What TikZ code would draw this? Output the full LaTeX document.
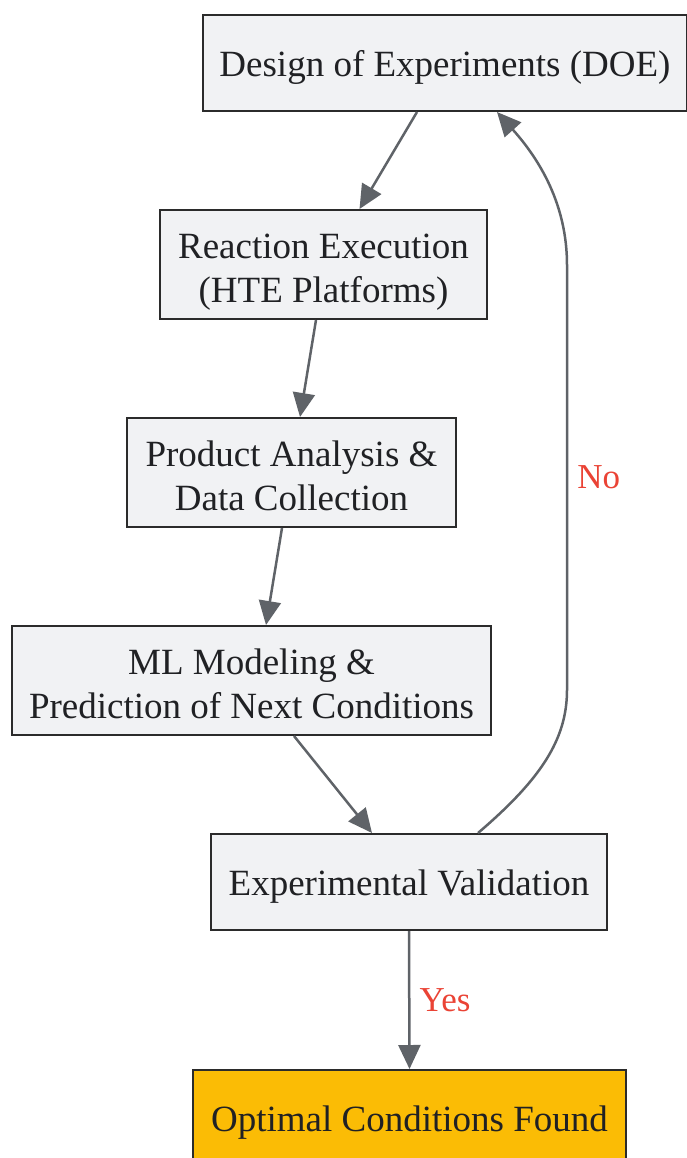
\documentclass[tikz,border=0pt]{standalone}
\usepackage{fontspec}
\setmainfont{Liberation Serif}
\usetikzlibrary{arrows.meta}

\definecolor{boxfill}{HTML}{F1F2F4}
\definecolor{boxline}{HTML}{2B2B2B}
\definecolor{arrowgray}{HTML}{5F6368}
\definecolor{labelred}{HTML}{EA4335}
\definecolor{foundfill}{HTML}{FBBC05}
\definecolor{textdark}{HTML}{202124}

\begin{document}
\begin{tikzpicture}[x={(1pt,0pt)}, y={(0pt,-1pt)},
    stage/.style={draw=boxline, line width=2pt, fill=boxfill, text=textdark, align=center, inner sep=0pt, text height=35.5pt, text depth=8pt, font=\fontsize{37}{44}\selectfont},
    twoline/.style={text height=83pt},
    flow/.style={draw=arrowgray, line width=2.5pt, -{Triangle[length=24pt,width=22pt]}},
    answer/.style={text=labelred, font=\fontsize{35}{42}\selectfont, inner sep=9pt}]

    % page
    \useasboundingbox (0,0) rectangle (687,1158);

    % boxes
    \node [stage, minimum width=484pt, minimum height=96pt] (doe) at (445,63) {Design of Experiments (DOE)};
    \node [stage, twoline, minimum width=327pt, minimum height=109pt] (react) at (323.5,264.5) {Reaction Execution\\(HTE Platforms)};
    \node [stage, twoline, minimum width=329pt, minimum height=109pt] (prod) at (291.5,472.5) {Product Analysis \&\\Data Collection};
    \node [stage, twoline, minimum width=479pt, minimum height=109pt] (ml) at (251.5,680.5) {ML Modeling \&\\Prediction of Next Conditions};
    \node [stage, minimum width=396pt, minimum height=96pt] (val) at (409,882) {Experimental Validation};
    \node [stage, fill=foundfill, minimum width=433pt, minimum height=96pt] (found) at (409.5,1118) {Optimal Conditions Found};

    % loop
    \draw [flow] ([xshift=-28pt]doe.south) -- ([xshift=36pt]react.north);
    \draw [flow] ([xshift=-7.5pt]react.south) -- ([xshift=8.5pt]prod.north);
    \draw [flow] ([xshift=-9.5pt]prod.south) -- ([xshift=14.5pt]ml.north);
    \draw [flow] ([xshift=42.5pt]ml.south) -- ([xshift=-37pt]val.north);
    \draw [flow] (val.south) -- node [answer, right] {Yes} (found.north);
    \draw [flow] ([xshift=69pt]val.north) .. controls (540,780) and (567,740) .. (567,690)
        -- node [answer, right] {No} (567,265)
        .. controls (567,205) and (540,160) .. ([xshift=52pt]doe.south);

\end{tikzpicture}
\end{document}
